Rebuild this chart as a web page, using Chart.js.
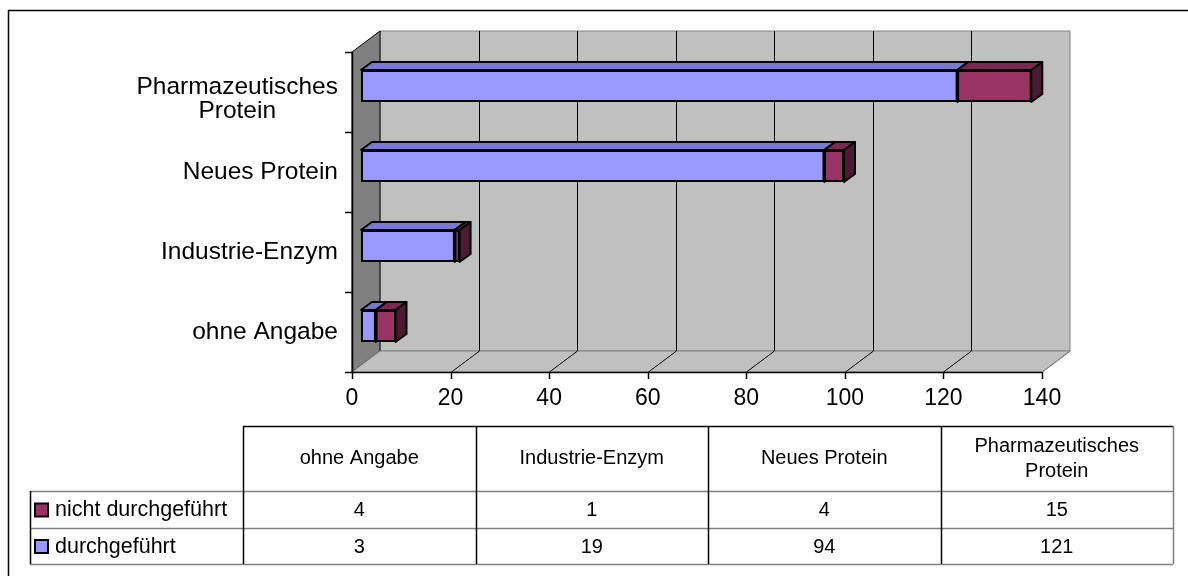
<!DOCTYPE html>
<html>
<head>
<meta charset="utf-8">
<script src="https://cdn.jsdelivr.net/npm/chart.js@4"></script>
<style>
  body { margin: 0; background: #fff; }
  #wrap { position: relative; width: 1188px; height: 576px; }
</style>
</head>
<body>
<div id="wrap"><canvas id="chart" width="1188" height="576"></canvas></div>
<script>
const categories = ["ohne Angabe", "Industrie-Enzym", "Neues Protein", ["Pharmazeutisches", "Protein"]];
const durchgefuehrt = [3, 19, 94, 121];
const nichtDurchgefuehrt = [4, 1, 4, 15];
const xTicks = [0, 20, 40, 60, 80, 100, 120, 140];

const BLUE = "#9999FF";
const RED = "#993366";
const FONT = "Arial, 'Liberation Sans', sans-serif";

// depth of the box and of the bars
const DX = 28, DY = -21;
const BAR_SHIFT_X = 9, BAR_SHIFT_Y = -6;
const BAR_DX = 11, BAR_DY = -8;

function poly(ctx, pts, fill, stroke, lw) {
    ctx.beginPath();
    ctx.moveTo(pts[0][0], pts[0][1]);
    for (let i = 1; i < pts.length; i++) ctx.lineTo(pts[i][0], pts[i][1]);
    ctx.closePath();
    if (fill) { ctx.fillStyle = fill; ctx.fill(); }
    if (stroke) { ctx.strokeStyle = stroke; ctx.lineWidth = lw || 1; ctx.stroke(); }
}

function line(ctx, x1, y1, x2, y2, color, lw) {
    ctx.beginPath();
    ctx.moveTo(x1, y1);
    ctx.lineTo(x2, y2);
    ctx.strokeStyle = color;
    ctx.lineWidth = lw || 1;
    ctx.stroke();
}

const box3d = {
    id: "box3d",
    beforeDatasetsDraw(chart) {
        const ctx = chart.ctx;
        const a = chart.chartArea;
        const xs = chart.scales.x;
        const ys = chart.scales.y;
        const L = a.left, R = a.right, T = a.top, B = a.bottom;

        // back wall, side wall, floor
        poly(ctx, [[L + DX, T + DY], [R + DX, T + DY], [R + DX, B + DY], [L + DX, B + DY]], "#C0C0C0", "#808080", 1);
        poly(ctx, [[L, T], [L + DX, T + DY], [L + DX, B + DY], [L, B]], "#808080", "#000", 1);
        poly(ctx, [[L, B], [L + DX, B + DY], [R + DX, B + DY], [R, B]], "#C0C0C0", "#808080", 1);

        // grid lines on wall and floor
        xTicks.forEach(v => {
            const px = Math.round(xs.getPixelForValue(v)) + 0.5;
            if (v > 0 && v < 140) line(ctx, px + DX, T + DY, px + DX, B + DY, "#000", 1);
            if (v > 0) line(ctx, px, B, px + DX, B + DY, v < 140 ? "#000" : "#808080", 1);
        });

        // axes
        line(ctx, L + 0.5, T, L + 0.5, B, "#000", 1.5);
        line(ctx, L, B + 0.5, R, B + 0.5, "#000", 1.5);
        xTicks.forEach(v => {
            const px = Math.round(xs.getPixelForValue(v)) + 0.5;
            line(ctx, px, B, px, B + 7, "#000", 1.5);
        });
        const step = (B - T) / categories.length;
        for (let i = 0; i <= categories.length; i++) {
            const py = Math.round(T + i * step) + 0.5;
            line(ctx, L - 7, py, L, py, "#000", 1.5);
        }

        // tick labels
        ctx.fillStyle = "#000";
        ctx.font = "23px " + FONT;
        ctx.textAlign = "center";
        ctx.textBaseline = "middle";
        xTicks.forEach(v => ctx.fillText(String(v), xs.getPixelForValue(v), B + 27));

        ctx.font = "24.5px " + FONT;
        categories.forEach((c, i) => {
            const py = ys.getPixelForValue(i);
            const right = L - 14;
            if (Array.isArray(c)) {
                let w = 0;
                c.forEach(t => { w = Math.max(w, ctx.measureText(t).width); });
                ctx.textAlign = "center";
                c.forEach((t, k) => ctx.fillText(t, right - w / 2, py - 5 + k * 24));
            } else {
                ctx.textAlign = "right";
                ctx.fillText(c, right, py);
            }
        });

        // bars sit inside the box, shift them back a bit
        ctx.save();
        ctx.translate(BAR_SHIFT_X, BAR_SHIFT_Y);
        const tops = ["#7A7ACC", "#7A2952"];
        const sides = ["#5C5C99", "#4D1A33"];
        chart.data.datasets.forEach((ds, di) => {
            const meta = chart.getDatasetMeta(di);
            meta.data.forEach((el, j) => {
                if (!ds.data[j]) return;
                const p = el.getProps(["x", "y", "base", "height"], true);
                const left = Math.min(p.x, p.base), right = Math.max(p.x, p.base);
                const top = p.y - p.height / 2, bottom = p.y + p.height / 2;
                ctx.lineJoin = "round";
                poly(ctx, [[left, top], [right, top], [right + BAR_DX, top + BAR_DY], [left + BAR_DX, top + BAR_DY]], tops[di], "#000", 2);
                poly(ctx, [[right, top], [right + BAR_DX, top + BAR_DY], [right + BAR_DX, bottom + BAR_DY], [right, bottom]], sides[di], "#000", 2);
            });
        });
    },
    afterDatasetsDraw(chart) {
        chart.ctx.restore();
    },
    afterDraw(chart) {
        const ctx = chart.ctx;

        // data table under the chart
        const tx0 = 30, tx1 = 243, tx2 = 1173;
        const y0 = 426, y1 = 491, y2 = 528, y3 = 564;
        const cw = (tx2 - tx1) / categories.length;

        line(ctx, tx1, y0 + 0.5, tx2, y0 + 0.5, "#000", 1.5);
        [y1, y2, y3].forEach(y => line(ctx, tx0, y + 0.5, tx2, y + 0.5, "#808080", 1.5));
        line(ctx, tx0 + 0.5, y1, tx0 + 0.5, y3, "#000", 1.5);
        for (let i = 0; i < categories.length; i++) {
            const x = Math.round(tx1 + i * cw) + 0.5;
            line(ctx, x, y0, x, y3, "#000", 1.5);
        }
        line(ctx, tx2 + 0.5, y0, tx2 + 0.5, y3, "#808080", 1.5);

        ctx.fillStyle = "#000";
        ctx.font = "20px " + FONT;
        ctx.textAlign = "center";
        ctx.textBaseline = "middle";
        categories.forEach((c, i) => {
            const cx = tx1 + (i + 0.5) * cw;
            if (Array.isArray(c)) {
                c.forEach((t, k) => ctx.fillText(t, cx, 446 + k * 25));
            } else {
                ctx.fillText(c, cx, (y0 + y1) / 2);
            }
            ctx.fillText(String(nichtDurchgefuehrt[i]), cx, (y1 + y2) / 2 + 1);
            ctx.fillText(String(durchgefuehrt[i]), cx, (y2 + y3) / 2 + 1);
        });

        // legend keys in the table
        const rows = [["nicht durchgeführt", RED, (y1 + y2) / 2], ["durchgeführt", BLUE, (y2 + y3) / 2]];
        rows.forEach(r => {
            ctx.fillStyle = r[1];
            ctx.fillRect(35, r[2] - 6, 13, 13);
            ctx.strokeStyle = "#000";
            ctx.lineWidth = 2;
            ctx.strokeRect(35, r[2] - 6, 13, 13);
            ctx.fillStyle = "#000";
            ctx.font = "21.5px " + FONT;
            ctx.textAlign = "left";
            ctx.fillText(r[0], 55, r[2] + 1);
        });

        // outer frame
        line(ctx, 8, 10.5, 1188, 10.5, "#000", 1.5);
        line(ctx, 8.5, 10, 8.5, 576, "#000", 1.5);
    }
};

new Chart(document.getElementById("chart"), {
    type: "bar",
    data: {
        labels: categories,
        datasets: [
            { label: "durchgeführt", data: durchgefuehrt, backgroundColor: BLUE, borderColor: "#000", borderWidth: 2, borderSkipped: false, clip: false },
            { label: "nicht durchgeführt", data: nichtDurchgefuehrt, backgroundColor: RED, borderColor: "#000", borderWidth: 2, borderSkipped: false, clip: false }
        ]
    },
    options: {
        indexAxis: "y",
        responsive: false,
        animation: false,
        layout: { padding: { left: 352, right: 146, top: 52, bottom: 204 } },
        categoryPercentage: 1,
        barPercentage: 0.4,
        scales: {
            x: { display: false, stacked: true, min: 0, max: 140 },
            y: { display: false, stacked: true, reverse: true }
        },
        plugins: {
            legend: { display: false },
            tooltip: { enabled: false }
        }
    },
    plugins: [box3d]
});
</script>
</body>
</html>
